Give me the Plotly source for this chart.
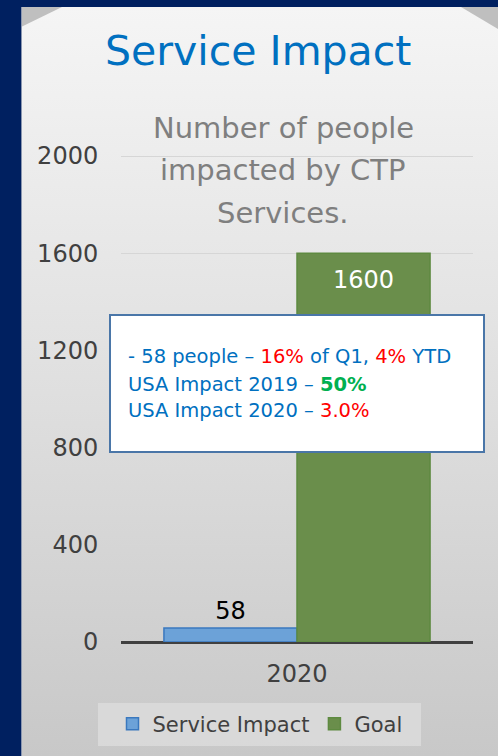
import base64
import plotly.graph_objects as go

# ---- data ----
categories = ["2020"]
service_impact = [58]
goal = [1600]
y_ticks = [0, 400, 800, 1200, 1600, 2000]

W, H = 498, 756
FONT = "DejaVu Sans"
NAVY = "#002060"
BAR_GAP = 0.244


def px(x):
    return x / W


def py(y):
    return 1 - y / H


fig = go.Figure()
fig.add_trace(go.Bar(
    name="Service Impact", x=categories, y=service_impact,
    marker=dict(color="#6CA2D8", line=dict(color="#3A78BE", width=1.5)),
    text=service_impact, textposition="outside",
    textfont=dict(family=FONT, size=24, color="#000000"),
    cliponaxis=False,
))
fig.add_trace(go.Bar(
    name="Goal", x=categories, y=goal,
    marker=dict(color="#6A8E4B", line=dict(color="#5E8A40", width=1.5)),
))

# background panel: vertical gradient with cut top corners (SVG image)
pw, ph = W - 21, H - 7
panel_svg = (
    f'<svg xmlns="http://www.w3.org/2000/svg" width="{pw}" height="{ph}" viewBox="0 0 {pw} {ph}">'
    '<defs><linearGradient id="g" x1="0" y1="0" x2="0" y2="1">'
    '<stop offset="0" stop-color="#F5F5F5"/>'
    '<stop offset="0.45" stop-color="#E2E2E2"/>'
    '<stop offset="1" stop-color="#C8C8C8"/>'
    '</linearGradient></defs>'
    f'<rect x="0" y="0" width="{pw}" height="{ph}" fill="url(#g)"/>'
    '<polygon points="0,0 41,0 0,20" fill="#BFBFBF"/>'
    f'<polygon points="{pw - 37},0 {pw},0 {pw},22" fill="#BFBFBF"/>'
    '<rect x="0" y="0" width="1" height="100%" fill="#8A96B0"/>'
    '</svg>'
)
panel_uri = "data:image/svg+xml;base64," + base64.b64encode(panel_svg.encode()).decode()

images = [dict(source=panel_uri, xref="paper", yref="paper", x=px(21), y=py(7),
               sizex=pw / W, sizey=ph / H, xanchor="left", yanchor="top",
               sizing="stretch", layer="below")]

shapes = [
    # legend background
    dict(type="rect", xref="paper", yref="paper", layer="below",
         x0=px(98), x1=px(421), y0=py(746), y1=py(703),
         line=dict(width=0), fillcolor="rgba(222,222,222,0.75)"),
    # text box
    dict(type="rect", xref="paper", yref="paper", layer="above",
         x0=px(110), x1=px(484), y0=py(452), y1=py(315),
         line=dict(color="#4A76A8", width=2), fillcolor="#FFFFFF"),
]

BLUE = "#0070C0"
RED = "#FF0000"
GREEN = "#00B050"
box_lines = [
    f"- 58 people – <span style='color:{RED}'>16%</span> of Q1, <span style='color:{RED}'>4%</span> YTD",
    f"USA Impact 2019 – <span style='color:{GREEN}'><b>50%</b></span>",
    f"USA Impact 2020 – <span style='color:{RED}'>3.0%</span>",
]
box_y = [356, 384, 411]

annotations = []
# Goal value label inside the top of its bar (bar centre on the category axis)
goal_offset = (1 - BAR_GAP) / 4
annotations.append(dict(text=str(goal[0]), x=goal_offset, y=goal[0], xref="x", yref="y",
                        showarrow=False, xanchor="center", yanchor="top", yshift=-11,
                        font=dict(family=FONT, size=24, color="#FFFFFF")))
annotations.append(dict(text="Service Impact", x=px(258), y=py(51), xref="paper", yref="paper",
                        showarrow=False, xanchor="center", yanchor="middle",
                        font=dict(family=FONT, size=41, color=BLUE)))
sub_lines = ["Number of people", "impacted by CTP", "Services."]
sub_y = [128, 170, 213]
for t, yy in zip(sub_lines, sub_y):
    annotations.append(dict(text=t, x=px(283), y=py(yy), xref="paper", yref="paper",
                            showarrow=False, xanchor="center", yanchor="middle",
                            font=dict(family=FONT, size=29, color="#7F7F7F")))
for t, yy in zip(box_lines, box_y):
    annotations.append(dict(text=t, x=px(126), y=py(yy), xref="paper", yref="paper",
                            showarrow=False, xanchor="left", yanchor="middle",
                            font=dict(family=FONT, size=19.5, color=BLUE)))

y_max = 2050
y_top_px = 642 - y_max * (642 - 156) / 2000

fig.update_layout(
    width=W, height=H,
    margin=dict(l=0, r=0, t=0, b=0, pad=0, autoexpand=False),
    paper_bgcolor=NAVY,
    plot_bgcolor="rgba(0,0,0,0)",
    barmode="group", bargap=BAR_GAP, bargroupgap=0,
    showlegend=True,
    legend=dict(orientation="h", x=px(260), xanchor="center", y=py(724), yanchor="middle",
                bgcolor="rgba(0,0,0,0)",
                font=dict(family=FONT, size=21, color="#404040"),
                traceorder="normal"),
    xaxis=dict(domain=[px(121), px(473)], showgrid=False, showline=False, automargin=False,
               ticks="outside", ticklen=10, tickcolor="rgba(0,0,0,0)",
               tickfont=dict(family=FONT, size=24, color="#404040")),
    yaxis=dict(domain=[py(642), py(y_top_px)], range=[0, y_max], automargin=False,
               tickvals=y_ticks, showgrid=True, gridcolor="#D6D6D6", gridwidth=1,
               zeroline=True, zerolinecolor="#404040", zerolinewidth=3,
               ticks="outside", ticklen=17, tickcolor="rgba(0,0,0,0)",
               tickfont=dict(family=FONT, size=24, color="#404040")),
    images=images,
    shapes=shapes,
    annotations=annotations,
)

fig.write_html(
    "out.html",
    config={"displayModeBar": False},
    post_script="document.body.style.margin='0';document.body.style.background='#002060';",
)
